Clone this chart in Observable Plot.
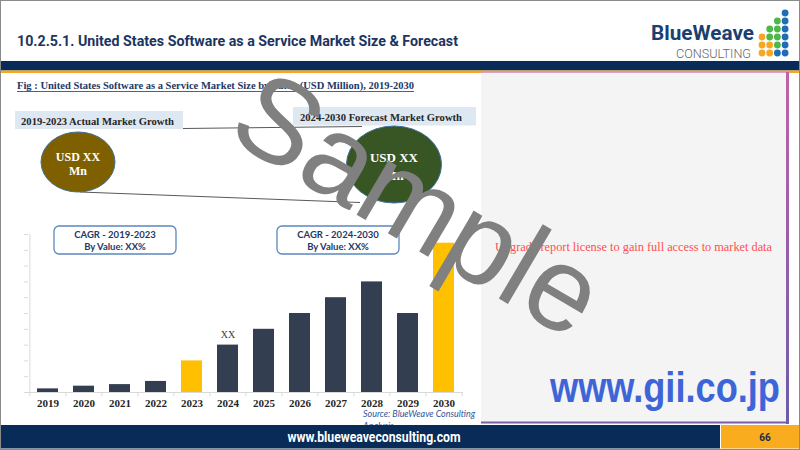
<!DOCTYPE html>
<html>
<head>
<meta charset="utf-8">
<script src="https://cdn.jsdelivr.net/npm/d3@7"></script>
<script src="https://cdn.jsdelivr.net/npm/@observablehq/plot@0.6"></script>
<style>
  html, body { margin: 0; padding: 0; background: #fff; }
  #slide { position: relative; width: 800px; height: 450px; overflow: hidden; background: #fff; }
  .layer { position: absolute; left: 0; top: 0; }
  #chart { position: absolute; left: 0; top: 224px; }
  #chart svg { background: transparent; overflow: visible; }
</style>
</head>
<body>
<div id="slide">
  <svg id="base" class="layer" width="800" height="450"></svg>
  <div id="chart"></div>
  <svg id="over" class="layer" width="800" height="450"></svg>
</div>
<script>
// ---- data ----
const years = ["2019", "2020", "2021", "2022", "2023", "2024", "2025", "2026", "2027", "2028", "2029", "2030"];
const values = [0.23, 0.4, 0.5, 0.7, 2.0, 3.0, 4.0, 5.0, 6.0, 7.0, 5.0, 9.45];
const highlightYears = ["2023", "2030"];
const labelYear = "2024";
const labelText = "XX";
const titleText = "10.2.5.1. United States Software as a Service Market Size & Forecast";
const figCaption = "Fig : United States Software as a Service Market Size by Value (USD Million), 2019-2030";
const periodLabels = ["2019-2023 Actual Market Growth", "2024-2030 Forecast Market Growth"];
const bubbleLabels = [["USD XX", "Mn"], ["USD XX", "Mn"]];
const cagrLabels = [["CAGR - 2019-2023", "By Value: XX%"], ["CAGR - 2024-2030", "By Value: XX%"]];
const sourceLines = ["Source: BlueWeave Consulting", "Analysis"];
const upgradeText = "Upgrade report license to gain full access to market data";
const footerUrl = "www.blueweaveconsulting.com";
const pageNumber = "66";

const data = years.map((year, i) => ({year, value: values[i]}));

// ---- slide chrome ----
const serif = "'Liberation Serif', 'DejaVu Serif', serif";
const sans = "Roboto, 'Liberation Sans', sans-serif";
const dots = [
  [3,0,"b"],
  [2,1,"g"],[3,1,"b"],
  [1,2,"g"],[2,2,"g"],[3,2,"b"],
  [0,3,"o"],[1,3,"g"],[2,3,"g"],[3,3,"b"],
  [0,4,"o"],[1,4,"o"],[2,4,"g"],[3,4,"b"],
  [0,5,"o"],[1,5,"o"],[2,5,"b"],[3,5,"b"]
];
const dotCol = {b: "#1f6db5", g: "#4cb848", o: "#f7a823"};
document.getElementById("base").innerHTML = `
  <defs>
    <linearGradient id="pg" x1="0" y1="0" x2="0" y2="1">
      <stop offset="0" stop-color="#c063a6"/><stop offset="1" stop-color="#6c5ca8"/>
    </linearGradient>
  </defs>
  <rect x="0" y="0" width="800" height="450" fill="#fff"/>
  <text x="17" y="46" font-family="${sans}" font-weight="700" font-size="15.5" fill="#1c3560"
        textLength="441" lengthAdjust="spacingAndGlyphs">${titleText.replace("&", "&amp;")}</text>
  <text x="651" y="40" font-family="${sans}" font-weight="700" font-size="20" fill="#1b3f70"
        textLength="103" lengthAdjust="spacingAndGlyphs">BlueWeave</text>
  <text x="676" y="57.5" font-family="${sans}" font-weight="300" font-size="13" fill="#666"
        textLength="75" lengthAdjust="spacingAndGlyphs">CONSULTING</text>
  ${dots.map(([c, r, k]) => `<circle cx="${762 + c * 7.7}" cy="${13 + r * 8}" r="3.4" fill="${dotCol[k]}"/>`).join("")}
  <rect x="0" y="61" width="800" height="9.5" fill="#082c57"/>
  <rect x="0" y="70.5" width="800" height="2.5" fill="#f6a821"/>
  <rect x="481" y="72" width="307" height="351" fill="#f4f4f4"/>
  <rect x="481" y="72" width="307" height="1" fill="#d8a3c9"/>
  <rect x="786" y="72" width="3" height="352" fill="url(#pg)"/>
  <rect x="481" y="421.5" width="308" height="2" fill="#7a5ca8"/>
  <text x="495" y="251" font-family="${serif}" font-size="11.5" fill="#ff4f4f"
        textLength="277" lengthAdjust="spacingAndGlyphs">${upgradeText}</text>
  <text x="550" y="402" font-family="'Liberation Sans', Arial, sans-serif" font-weight="700" font-size="42" fill="#3e65d8"
        textLength="230" lengthAdjust="spacingAndGlyphs">www.gii.co.jp</text>
  <text x="17" y="89" font-family="${serif}" font-weight="700" font-size="10.5" fill="#1f3864"
        textLength="397" lengthAdjust="spacingAndGlyphs">${figCaption}</text>
  <line x1="17" y1="91.5" x2="414" y2="91.5" stroke="#1f3864" stroke-width="0.8"/>
  <line x1="183" y1="128.5" x2="362" y2="126.5" stroke="#595959" stroke-width="1"/>
  <line x1="80" y1="192" x2="360" y2="202.5" stroke="#595959" stroke-width="1"/>
  <rect x="15" y="111" width="168" height="18" fill="#dde8f3"/>
  <text x="21" y="124.5" font-family="${serif}" font-weight="700" font-size="11" fill="#262626"
        textLength="153" lengthAdjust="spacingAndGlyphs">${periodLabels[0]}</text>
  <rect x="293" y="107" width="183" height="18.5" fill="#dde8f3"/>
  <text x="300" y="120.5" font-family="${serif}" font-weight="700" font-size="11" fill="#262626"
        textLength="162" lengthAdjust="spacingAndGlyphs">${periodLabels[1]}</text>
  <ellipse cx="78" cy="162" rx="37" ry="30" fill="#7f6000" stroke="#41719c" stroke-width="1"/>
  <text x="78" y="161" text-anchor="middle" font-family="${serif}" font-weight="700" font-size="12" fill="#fff">${bubbleLabels[0][0]}</text>
  <text x="78" y="175" text-anchor="middle" font-family="${serif}" font-weight="700" font-size="12" fill="#fff">${bubbleLabels[0][1]}</text>
  <ellipse cx="394" cy="164.5" rx="47.5" ry="38.5" fill="#375623" stroke="#41719c" stroke-width="1"/>
  <text x="394" y="162" text-anchor="middle" font-family="${serif}" font-weight="700" font-size="13" fill="#fff">${bubbleLabels[1][0]}</text>
  <text x="394" y="180" text-anchor="middle" font-family="${serif}" font-weight="700" font-size="13" fill="#fff">${bubbleLabels[1][1]}</text>
  <text x="363" y="417" font-family="Lato, 'Open Sans', sans-serif" font-style="italic" font-size="9" fill="#2f5597"
        textLength="112" lengthAdjust="spacingAndGlyphs">${sourceLines[0]}</text>
  <text x="363" y="429" font-family="Lato, 'Open Sans', sans-serif" font-style="italic" font-size="9" fill="#2f5597">${sourceLines[1]}</text>
  <rect x="0" y="425" width="720" height="23.5" fill="#082c57"/>
  <rect x="720" y="425" width="80" height="23.5" fill="#f9ad1e"/>
  <line x1="720.5" y1="425" x2="720.5" y2="448.5" stroke="#fff" stroke-width="1"/>
  <text x="374" y="442" text-anchor="middle" font-family="${sans}" font-weight="700" font-size="14" fill="#fff"
        textLength="173" lengthAdjust="spacingAndGlyphs">${footerUrl}</text>
  <text x="765" y="441" text-anchor="middle" font-family="${sans}" font-weight="700" font-size="10" fill="#1f2a44">${pageNumber}</text>
  <rect x="0.5" y="0.5" width="799" height="449" fill="none" stroke="#8a8a8a" stroke-width="1"/>
`;

// ---- chart ----
const W = 480, mL = 28, mR = 17;
const step = (W - mL - mR) / years.length;
const axisGray = "#d9d9d9";
const chart = Plot.plot({
  width: W,
  height: 196,
  marginLeft: mL,
  marginRight: mR,
  marginTop: 10,
  marginBottom: 28,
  style: {background: "transparent", overflow: "visible"},
  x: {domain: years, paddingInner: 0.42, paddingOuter: 0.21},
  y: {domain: [0, 10]},
  marks: [
    Plot.axisY({ticks: 10, tickSize: 4, tickFormat: () => "", stroke: axisGray, label: null}),
    Plot.ruleX([years[0]], {dx: -step / 2, y1: 0, y2: 10, stroke: axisGray}),
    Plot.ruleX(years, {x: d => d, dx: -step / 2, y1: 0, y2: -0.28, stroke: axisGray}),
    Plot.ruleX([years[years.length - 1]], {dx: step / 2, y1: 0, y2: -0.28, stroke: axisGray}),
    Plot.ruleY([0], {stroke: axisGray}),
    Plot.barY(data, {filter: d => !highlightYears.includes(d.year), x: "year", y: "value", fill: "#333f50"}),
    Plot.barY(data, {filter: d => highlightYears.includes(d.year), x: "year", y: "value", fill: "#ffc000"}),
    Plot.text(data, {filter: d => d.year === labelYear, x: "year", y: "value", text: () => labelText, dy: -10,
      fontFamily: serif, fontSize: 10, fill: "#404040"}),
    Plot.axisX({tickSize: 0, tickPadding: 7, label: null, fontFamily: serif, fontWeight: "bold", fontSize: 11, fill: "#262626"})
  ]
});
document.getElementById("chart").appendChild(chart);

// ---- overlay: CAGR boxes + watermark ----
const cagrBoxes = [{x: 54, lines: cagrLabels[0]}, {x: 277, lines: cagrLabels[1]}];
document.getElementById("over").innerHTML = `
  ${cagrBoxes.map(b => `
    <rect x="${b.x}" y="226" width="122" height="28" rx="5" fill="#fff" stroke="#5b87c0" stroke-width="1.3"/>
    <text x="${b.x + 61}" y="238" text-anchor="middle" font-family="Lato, 'Open Sans', sans-serif" font-weight="700" font-size="9.5" fill="#1f3864">${b.lines[0]}</text>
    <text x="${b.x + 61}" y="250" text-anchor="middle" font-family="Lato, 'Open Sans', sans-serif" font-weight="700" font-size="9.5" fill="#1f3864">${b.lines[1]}</text>
  `).join("")}
  <text transform="translate(398,239) rotate(30.5)" text-anchor="middle"
        font-family="'Liberation Sans', Arial, sans-serif" font-size="119" fill="#808080">Sample</text>
`;
</script>
</body>
</html>
